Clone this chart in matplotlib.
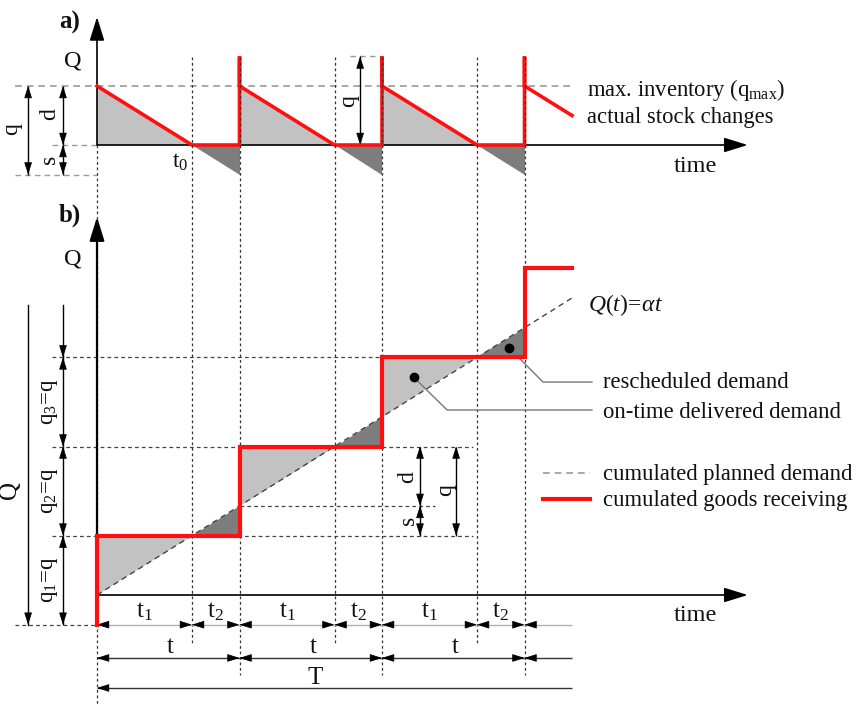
import matplotlib
matplotlib.use("Agg")
import matplotlib.pyplot as plt
from matplotlib.patches import Polygon

plt.rcParams["font.family"] = ["Liberation Serif", "DejaVu Serif"]
plt.rcParams["mathtext.fontset"] = "custom"
plt.rcParams["mathtext.rm"] = "Liberation Serif"
plt.rcParams["mathtext.it"] = "Liberation Serif:italic"
plt.rcParams["mathtext.bf"] = "Liberation Serif:bold"

# ---- model quantities (time units / quantity units) ----
t1 = 2.0            # part of a cycle covered by stock
t2 = 1.0            # shortage part of a cycle
cycle = t1 + t2     # delivery cycle t
n_cycles = 3
alpha = 1.0         # demand rate, Q(t) = alpha * t
q = 3.0             # delivered quantity per cycle
s = 1.0             # rescheduled (short) quantity per cycle
d = q - s           # quantity delivered on time
t_end = 10.0        # right end of the drawn curves

boundaries = [k * cycle for k in range(n_cycles + 1)]        # 0, 3, 6, 9
stockouts = [k * cycle + t1 for k in range(n_cycles)]        # 2, 5, 8
levels_b = [-s + (k + 1) * q for k in range(n_cycles + 1)]   # 2, 5, 8, 11

RED = "#ff1010"
LIGHT = "#c2c2c2"
DARK = "#7d7d7d"

W, H = 857, 705
fig = plt.figure(figsize=(W / 100, H / 100), dpi=100)

X0, SX = 97, 47.5


def make_ax(y0, sy):
    ax = fig.add_axes([0, 0, 1, 1])
    ax.set_xlim(-X0 / SX, (W - X0) / SX)
    ax.set_ylim((y0 - H) / sy, y0 / sy)
    ax.axis("off")
    ax.patch.set_alpha(0)
    return ax


axa = make_ax(145, 29.5)
axb = make_ax(595, 29.7)


def sgn(v):
    return 1 if v > 0 else -1


def head(ax, x, y, ux, uy, length=0.75, width=0.24, scale=10, color="k"):
    """Small filled arrowhead with its tip at (x, y); (ux, uy) points to its tail."""
    L = length * scale
    ax.annotate("", xy=(x, y), xytext=(ux * L, uy * L), textcoords="offset points",
                arrowprops=dict(arrowstyle=f"-|>,head_length={length},head_width={width}",
                                mutation_scale=scale, color=color, lw=0.6,
                                shrinkA=0, shrinkB=0))


def dim_h(ax, xa, xb, y, color="k", lw=1.0, heads=(True, True)):
    ax.plot([xa, xb], [y, y], color=color, lw=lw, solid_capstyle="butt")
    if heads[0]:
        head(ax, xa, y, sgn(xb - xa), 0)
    if heads[1]:
        head(ax, xb, y, sgn(xa - xb), 0)


def dim_v(ax, x, ya, yb, color="k", lw=1.0, heads=(True, True)):
    ax.plot([x, x], [ya, yb], color=color, lw=lw, solid_capstyle="butt")
    if heads[0]:
        head(ax, x, ya, 0, sgn(yb - ya))
    if heads[1]:
        head(ax, x, yb, 0, sgn(ya - yb))


def axis_arrow(ax, start, tip, lw=1.2):
    ax.annotate("", xy=tip, xytext=start,
                arrowprops=dict(arrowstyle="-|>,head_length=1.45,head_width=0.45",
                                mutation_scale=10, color="k", lw=lw,
                                shrinkA=0, shrinkB=0))


TXT = dict(color="#111111", ha="center", va="center")
LEG = dict(color="#111111", ha="left", va="center", fontsize=16.3)
DOT = (0, (2.2, 2.2))
GDASH = (0, (4, 3))

# ================= vertical guide lines through both panels =================
axb.plot([0, 0], [15.15, -3.7], color="#333333", lw=0.9, ls=DOT)
for x in stockouts:
    axb.plot([x, x], [18.1, -1.65], color="#333333", lw=0.9, ls=DOT)
for x in boundaries[1:]:
    axb.plot([x, x], [18.1, -2.7], color="#333333", lw=0.9, ls=DOT)

# ================= panel a) : stock level =================
for k in range(n_cycles):
    ts = k * cycle
    axa.add_patch(Polygon([(ts, d), (ts, 0), (ts + t1, 0)], closed=True,
                          fc=LIGHT, ec="none"))
    axa.add_patch(Polygon([(ts + t1, 0), (ts + cycle, 0), (ts + cycle, -alpha * t2)],
                          closed=True, fc=DARK, ec="none"))

# guide lines
axa.plot([-1.73, t_end], [d, d], color="#9a9a9a", lw=1.2, ls=GDASH)
axa.plot([-0.95, 0], [0, 0], color="#9a9a9a", lw=1.0, ls=GDASH)
axa.plot([-1.73, 0], [-s, -s], color="#9a9a9a", lw=1.0, ls=GDASH)
axa.plot([5.33, 5.96], [q, q], color="#9a9a9a", lw=1.0, ls=GDASH)

# axes
axis_arrow(axa, (0, 0), (13.7, 0))
axis_arrow(axa, (0, 0), (0, 4.34))

# actual stock changes
xs, ys = [0.0], [d]
for k in range(n_cycles):
    ts = k * cycle
    xs += [ts + t1, ts + cycle, ts + cycle, ts + cycle]
    ys += [0.0, 0.0, q, d]
xs.append(t_end)
ys.append(d - alpha * (t_end - boundaries[-1]))
axa.plot(xs, ys, color=RED, lw=2.6, solid_joinstyle="miter", zorder=5)

# dimension arrows
dim_v(axa, -1.45, d, -s)
dim_v(axa, -0.716, d, 0)
dim_v(axa, -0.716, 0, -s)
dim_v(axa, 5.54, q, 0)

axa.text(-1.79, 0.55, "q", rotation=90, fontsize=17, **TXT)
axa.text(-0.99, 1.05, "d", rotation=90, fontsize=17, **TXT)
axa.text(-1.0, -0.5, "s", rotation=90, fontsize=17, **TXT)
axa.text(5.3, 1.5, "q", rotation=90, fontsize=17, **TXT)
axa.text(1.75, -0.6, r"$\mathrm{t}_{0}$", fontsize=17, **TXT)
axa.text(-0.52, 2.85, "Q", fontsize=17.5, **TXT)
axa.text(-0.57, 4.17, "a)", fontsize=18, fontweight="bold", **TXT)
axa.text(12.59, -0.72, "time", fontsize=17.5, **TXT)
axa.text(10.32, 1.86, r"max. inventory (q$_{\mathrm{max}}$)", **LEG)
axa.text(10.32, 0.92, "actual stock changes", **LEG)

# ================= panel b) : cumulated quantities =================
for k in range(n_cycles):
    ts = k * cycle
    lev = levels_b[k]
    axb.add_patch(Polygon([(ts, alpha * ts), (ts, lev), (ts + t1, lev)], closed=True,
                          fc=LIGHT, ec="none"))
    axb.add_patch(Polygon([(ts + t1, lev), (ts + cycle, lev),
                           (ts + cycle, alpha * (ts + cycle))], closed=True,
                          fc=DARK, ec="none"))

# horizontal guide lines
HD = dict(color="#444444", lw=0.9, ls=(0, (3, 2.5)))
axb.plot([-0.95, 7.92], [levels_b[0], levels_b[0]], **HD)
axb.plot([-0.95, 7.92], [levels_b[1], levels_b[1]], **HD)
axb.plot([-0.95, boundaries[3]], [levels_b[2], levels_b[2]], **HD)
axb.plot([boundaries[1], 7.12], [alpha * boundaries[1]] * 2, **HD)
axb.plot([-1.73, 0], [-s, -s], **HD)

# axes
axis_arrow(axb, (0, 0), (13.7, 0))
axis_arrow(axb, (0, 0), (0, 12.73), lw=1.6)

# cumulated planned demand
axb.plot([0, t_end], [0, alpha * t_end], color="#444444", lw=1.0, ls=(0, (4, 3)), zorder=4)

# cumulated goods receiving (step function)
xs, ys = [0.0, 0.0], [-s, levels_b[0]]
for k in range(1, n_cycles + 1):
    x = boundaries[k]
    xs += [x, x]
    ys += [levels_b[k - 1], levels_b[k]]
xs.append(t_end)
ys.append(levels_b[-1])
axb.plot(xs, ys, color=RED, lw=3.0, solid_joinstyle="miter", zorder=5)

# quantity dimensions on the left
axb.plot([-0.716, -0.716], [9.76, levels_b[2]], color="k", lw=1.0)
head(axb, -0.716, levels_b[2], 0, 1)
for k in range(n_cycles):
    dim_v(axb, -0.716, levels_b[k], levels_b[k] - q)
    lab = r"q$_{%d}$=q" % (k + 1)
    axb.text(-0.99, levels_b[k] - q / 2, lab, rotation=90, fontsize=16.5, **TXT)
axb.plot([-1.45, -1.45], [9.76, -s], color="k", lw=1.0)
head(axb, -1.45, -s, 0, 1)
axb.text(-1.83, 3.54, "Q", rotation=90, fontsize=18, **TXT)

# d / s / q dimensions
dim_v(axb, 6.8, levels_b[1], alpha * boundaries[1])
dim_v(axb, 6.8, alpha * boundaries[1], levels_b[0])
dim_v(axb, 7.56, levels_b[1], levels_b[0])
axb.text(6.55, 3.97, "d", rotation=90, fontsize=17, **TXT)
axb.text(6.55, 2.5, "s", rotation=90, fontsize=17, **TXT)
axb.text(7.33, 3.54, "q", rotation=90, fontsize=17, **TXT)

# time dimensions
row1, row2, row3 = -1.0, -2.12, -3.13
for k in range(n_cycles):
    ts = k * cycle
    dim_h(axb, ts, ts + t1, row1, color="#b0b0b0")
    dim_h(axb, ts + t1, ts + cycle, row1, color="#b0b0b0")
    dim_h(axb, ts, ts + cycle, row2, color="#333333")
    axb.text(ts + t1 / 2, -0.57, r"$\mathrm{t}_{1}$", fontsize=18, **TXT)
    axb.text(ts + t1 + t2 / 2, -0.57, r"$\mathrm{t}_{2}$", fontsize=18, **TXT)
    axb.text(ts + cycle / 2 + 0.05, -1.75, "t", fontsize=18, **TXT)
dim_h(axb, boundaries[-1], t_end, row1, color="#b0b0b0", heads=(True, False))
dim_h(axb, boundaries[-1], t_end, row2, color="#333333", heads=(True, False))
dim_h(axb, 0, t_end, row3, color="#333333", heads=(True, False))
axb.text(4.6, -2.8, "T", fontsize=18, **TXT)

# labels
axb.text(-0.57, 12.8, "b)", fontsize=18, fontweight="bold", **TXT)
axb.text(-0.52, 11.31, "Q", fontsize=17.5, **TXT)
axb.text(12.59, -0.68, "time", fontsize=17.5, **TXT)
axb.text(10.34, 9.76, r"$Q(t)\!=\!\alpha t$", fontsize=17, color="#111111",
         ha="left", va="center")

# pointers to the areas
PT = dict(color="#777777", lw=1.0)
tri_r = (8 + 2 / 3, 8 + 1 / 3)
tri_o = (6 + 2 / 3, 7 + 1 / 3)
axb.plot([tri_r[0], 9.39, 10.42], [tri_r[1], 7.17, 7.17], **PT)
axb.plot([tri_o[0], 7.37, 10.42], [tri_o[1], 6.23, 6.23], **PT)
axb.plot(*tri_r, "o", color="k", ms=6, zorder=6)
axb.plot(*tri_o, "o", color="k", ms=6, zorder=6)
axb.text(10.65, 7.14, "rescheduled demand", **LEG)
axb.text(10.65, 6.16, "on-time delivered demand", **LEG)

# legend
axb.plot([9.39, 10.38], [4.1, 4.1], color="#9a9a9a", lw=1.2, ls=GDASH)
axb.plot([9.39, 10.38], [3.23, 3.23], color=RED, lw=3.0)
axb.text(10.65, 4.05, "cumulated planned demand", **LEG)
axb.text(10.65, 3.17, "cumulated goods receiving", **LEG)

fig.savefig("out.png", dpi=100, facecolor="white")
